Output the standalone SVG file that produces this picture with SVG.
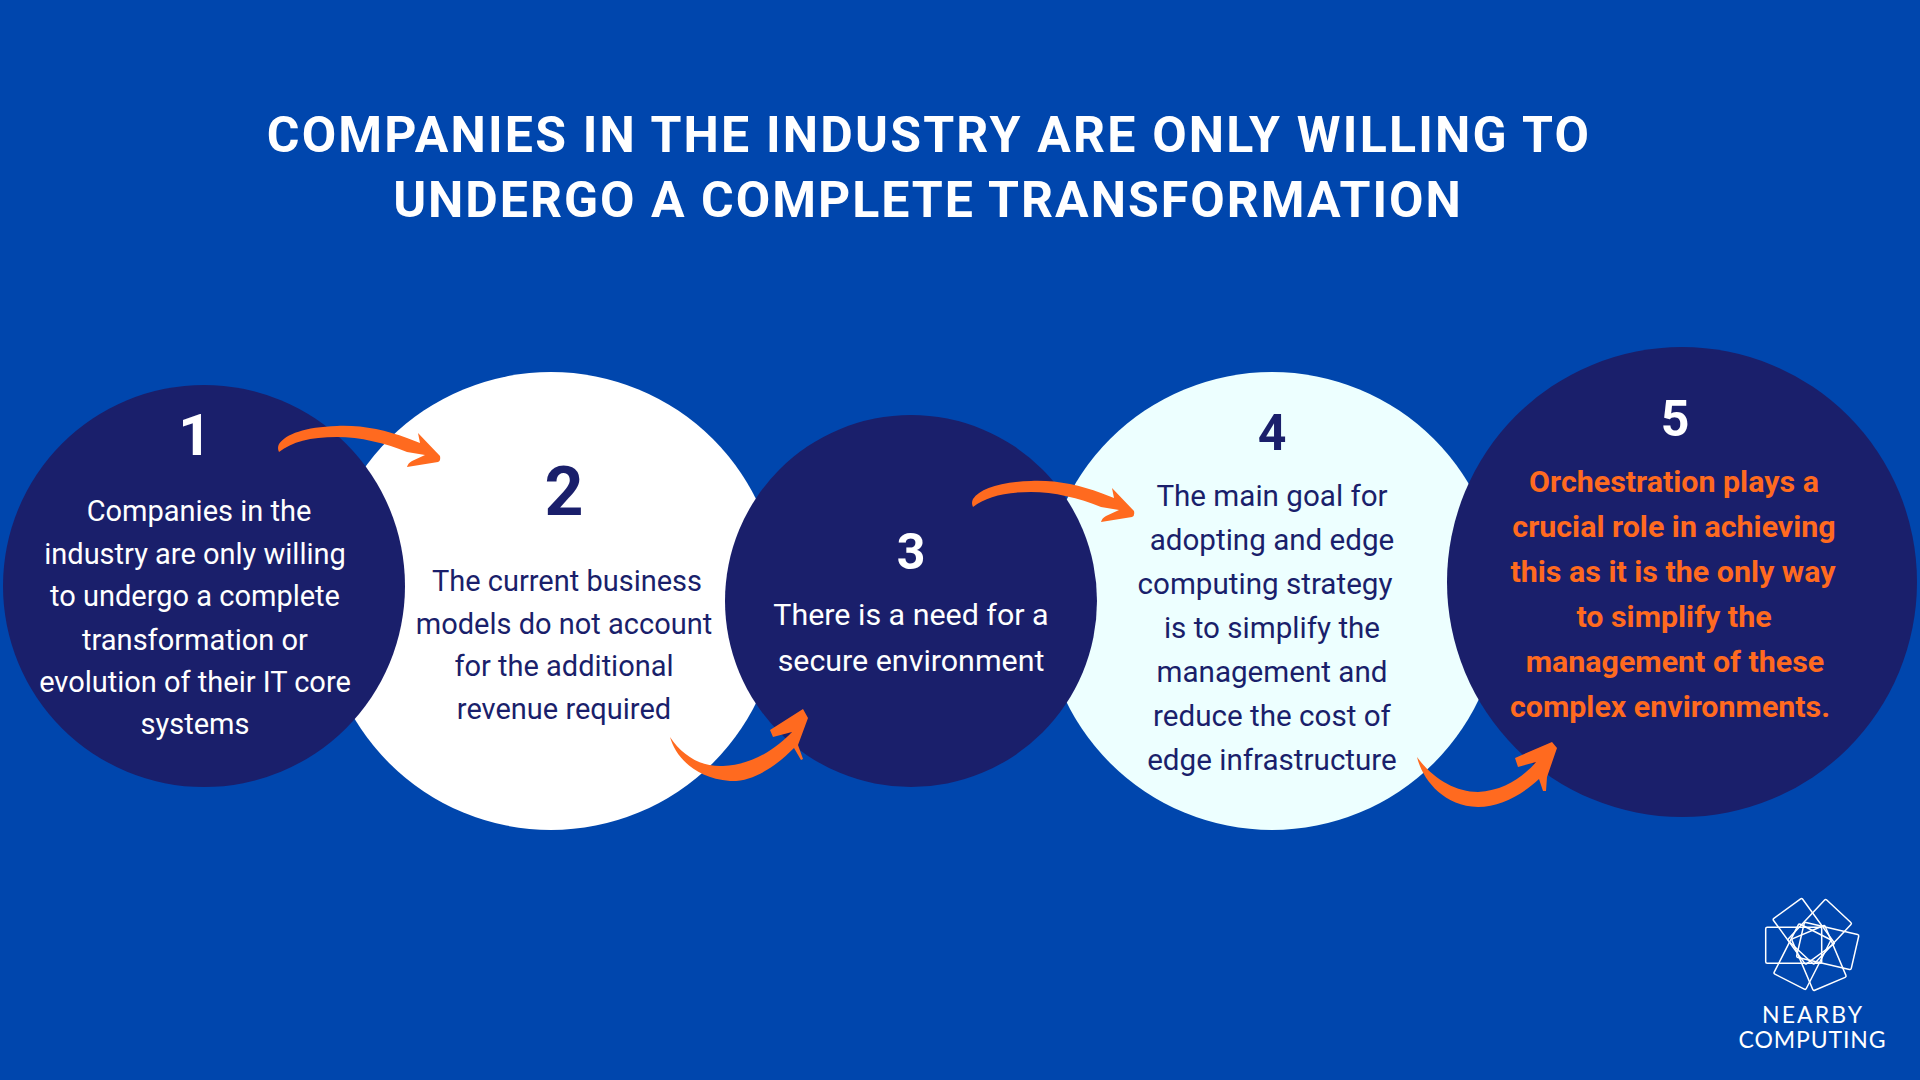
<svg xmlns="http://www.w3.org/2000/svg" width="1920" height="1080" viewBox="0 0 1920 1080">
<style>
text{font-family:Roboto,"Liberation Sans",sans-serif;text-anchor:middle}
.title{font-size:50px;font-weight:700;fill:#fff;letter-spacing:2.2px}
.body{font-size:29px}
.b3{font-size:30.4px}
.b4{font-size:29.6px}
.w{fill:#fff}.n{fill:#1a1f6b}
.num{font-weight:700}
.o{font-size:30.4px;font-weight:700;fill:#ff6a1f}
.arrow{fill:#ff6a1f}
.logo rect{fill:none;stroke:#fff;stroke-width:1.5}
.logo text{font-family:Lato,"Open Sans",sans-serif;font-size:23px;font-weight:400;fill:#fff}
</style>
<rect width="1920" height="1080" fill="#0046ad"/>
<g id="title"><text class="title" x="929" y="152">COMPANIES IN THE INDUSTRY ARE ONLY WILLING TO</text><text class="title" x="928" y="217" style="letter-spacing:2px">UNDERGO A COMPLETE TRANSFORMATION</text></g>
<g id="node2"><circle cx="551" cy="601" r="229" fill="#fff"/><text class="n num" x="564" y="515" font-size="68">2</text>
<text class="n body" x="567" y="591">The current business</text><text class="n body" x="564" y="634">models do not account</text><text class="n body" x="564" y="676">for the additional</text><text class="n body" x="564" y="719">revenue required</text></g>
<g id="node1"><circle cx="204" cy="586" r="201" fill="#1a1f6b"/><text class="w num" x="195" y="455" font-size="58">1</text>
<text class="w body" x="199" y="521">Companies in the</text><text class="w body" x="195" y="564">industry are only willing</text><text class="w body" x="195" y="606">to undergo a complete</text><text class="w body" x="195" y="650">transformation or</text><text class="w body" x="195" y="692">evolution of their IT core</text><text class="w body" x="195" y="734">systems</text></g>
<g id="node4"><circle cx="1272" cy="601" r="229" fill="#edffff"/><text class="n num" x="1272" y="450" font-size="50">4</text>
<text class="n b4" x="1272" y="506">The main goal for</text><text class="n b4" x="1272" y="550">adopting and edge</text><text class="n b4" x="1265" y="594">computing strategy</text><text class="n b4" x="1272" y="638">is to simplify the</text><text class="n b4" x="1272" y="682">management and</text><text class="n b4" x="1272" y="726">reduce the cost of</text><text class="n b4" x="1272" y="770">edge infrastructure</text></g>
<g id="node3"><circle cx="911" cy="601" r="186" fill="#1a1f6b"/><text class="w num" x="911" y="569" font-size="50">3</text>
<text class="w b3" x="911" y="625">There is a need for a</text><text class="w b3" x="911" y="671">secure environment</text></g>
<g id="node5"><circle cx="1682" cy="582" r="235" fill="#1a1f6b"/><text class="w num" x="1675" y="436" font-size="50">5</text>
<text class="o" x="1674" y="492">Orchestration plays a</text><text class="o" x="1674" y="537">crucial role in achieving</text><text class="o" x="1673" y="582">this as it is the only way</text><text class="o" x="1674" y="627">to simplify the</text><text class="o" x="1675" y="672">management of these</text><text class="o" x="1670" y="717">complex environments.</text></g>
<g id="connectors">
<path id="a1" class="arrow" d="M279 452Q277 448 279 444C286 434 305 427 337 426C362 425 385 430 407 438L420 443L418 433L440 456Q441 461 438 462L407 467Q408 463 412 461L425 455L407 452C385 443 360 437 337 437C310 437 292 442 279 452Z"/>
<path id="a3" class="arrow" transform="translate(694 55)" d="M279 452Q277 448 279 444C286 434 305 427 337 426C362 425 385 430 407 438L420 443L418 433L440 456Q441 461 438 462L407 467Q408 463 412 461L425 455L407 452C385 443 360 437 337 437C310 437 292 442 279 452Z"/>
<path id="a2" class="arrow" d="M670 737C675 755 693 778 730 781C755 782 778 764 794 748L801 760L803 759L798 745L808 718L803 709L770 730L773 737L792 732C780 745 755 765 723 766C700 767 682 755 670 737Z"/>
<path id="a4" class="arrow" d="M1417 757C1422 778 1442 806 1478 807C1500 807 1522 795 1539 779L1543 791L1546 791L1547 777L1557 748L1552 742L1515 758L1518 767L1536 762C1525 775 1505 791 1478 792C1455 792 1432 778 1417 757Z"/>
</g>
<g id="logo" class="logo">
<rect x="-28" y="-18" width="56" height="36" rx="1.5" transform="translate(1793.7 945.3)"/>
<rect x="-28" y="-18" width="56" height="36" rx="1.5" transform="translate(1827.7 946) rotate(13)"/>
<rect x="-28" y="-18" width="56" height="36" rx="1.5" transform="translate(1803.7 931.3) rotate(54)"/>
<rect x="-28" y="-18" width="56" height="36" rx="1.5" transform="translate(1819.7 931.7) rotate(133)"/>
<rect x="-28" y="-18" width="56" height="36" rx="1.5" transform="translate(1819 958) rotate(67)"/>
<rect x="-28" y="-18" width="56" height="36" rx="1.5" transform="translate(1802.3 956.7) rotate(-63)"/>
<text x="1812" y="1023" textLength="100">NEARBY</text><text x="1812" y="1048" textLength="147">COMPUTING</text>
</g>
</svg>
